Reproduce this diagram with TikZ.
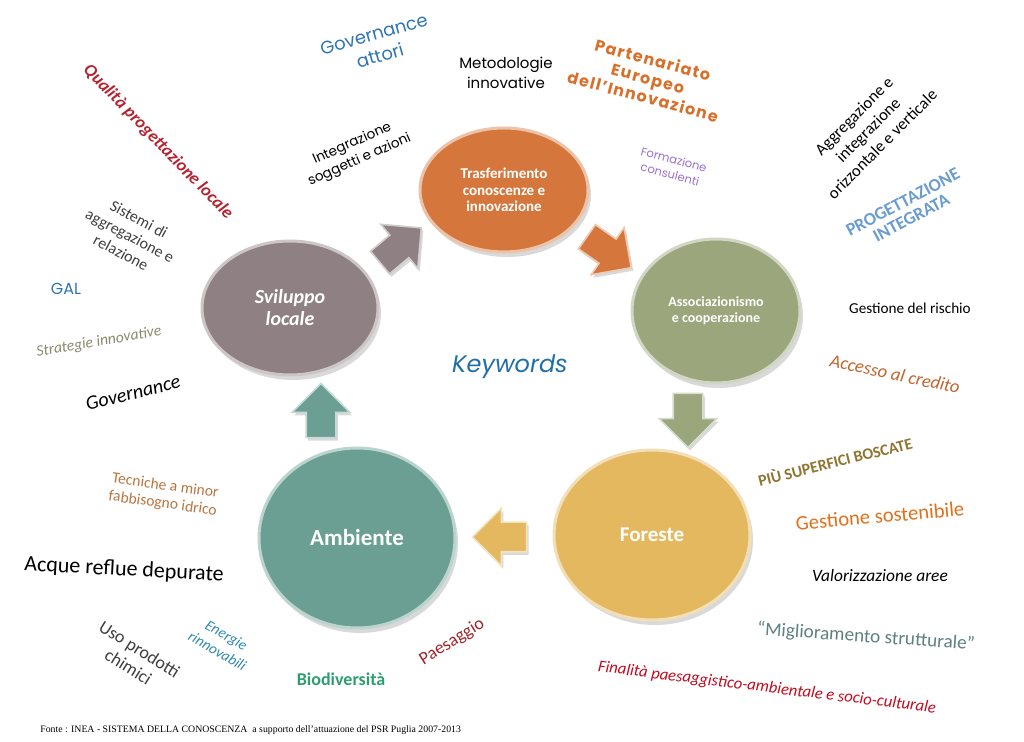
\documentclass[tikz,border=0pt]{standalone}
\usepackage{fontspec}
\setmainfont{Carlito}
\newfontfamily\gothicfont{Poppins}
\newfontfamily\notefont{Liberation Serif}
\usetikzlibrary{positioning, shapes.geometric, shapes.arrows, shadows}
\newcommand{\setsize}[2]{\fontsize{#1}{#2}\selectfont}
\definecolor{svilcol}{HTML}{8F8183}
\definecolor{trasfcol}{HTML}{D5773D}
\definecolor{assoccol}{HTML}{9CA67D}
\definecolor{forecol}{HTML}{E3B85E}
\definecolor{ambcol}{HTML}{6B9F93}
\definecolor{qualred}{HTML}{B5232F}
\definecolor{darkgray}{HTML}{3F3F3F}
\definecolor{galblue}{HTML}{2E74B5}
\definecolor{olivegray}{HTML}{8A8A6E}
\definecolor{partorange}{HTML}{D8702A}
\definecolor{formpurple}{HTML}{9A6FD0}
\definecolor{progblue}{HTML}{6A9CD0}
\definecolor{accbrown}{HTML}{C0632C}
\definecolor{boscolive}{HTML}{8F7530}
\definecolor{sostorange}{HTML}{E0711C}
\definecolor{miglteal}{HTML}{5E8080}
\definecolor{finred}{HTML}{C00A1E}
\definecolor{tecbrown}{HTML}{B8753F}
\definecolor{enblue}{HTML}{2F8AB0}
\definecolor{biogreen}{HTML}{2E9E72}
\definecolor{paesred}{HTML}{A3232B}
\definecolor{kwblue}{HTML}{1F6FA8}
\tikzset{
    theme/.style={ellipse, draw=#1!45!white, line width=1.5pt, fill=#1, inner sep=0pt,
        text=white, align=center,
        drop shadow={opacity=0.3, shadow xshift=1.5pt, shadow yshift=-2.5pt}},
    flow/.style={single arrow, fill=#1, draw=#1!40!white, line width=0.8pt,
        minimum height=27pt, single arrow head extend=7pt, inner xsep=0pt, inner ysep=7pt,
        drop shadow={opacity=0.3, shadow xshift=1pt, shadow yshift=-1.5pt}},
    kw/.style={align=center, inner sep=1pt}
}

\begin{document}
\begin{tikzpicture}[x=0.5pt, y=-0.5pt]
    \useasboundingbox (0,0) rectangle (1024,742);

    % Themes
    \node[theme=svilcol, minimum width=88pt, minimum height=67pt, font=\bfseries\itshape\setsize{10}{11}] (svil) at (290,308) {Sviluppo\\locale};
    \node[theme=trasfcol, minimum width=84pt, minimum height=62pt, font=\bfseries\setsize{7.5}{8.3}] (trasf) at (504,190) {Trasferimento\\conoscenze e\\innovazione};
    \node[theme=assoccol, minimum width=84pt, minimum height=72pt, font=\bfseries\setsize{7}{8}] (assoc) at (716,311) {Associazionismo\\e cooperazione};
    \node[theme=forecol, minimum width=98pt, minimum height=85pt, font=\bfseries\setsize{10.5}{12}] (fore) at (652,535) {Foreste};
    \node[theme=ambcol, minimum width=98pt, minimum height=90pt, font=\bfseries\setsize{11.5}{13}] (amb) at (357,538) {Ambiente};

    % Arrows between themes
    \node[flow=svilcol, rotate=40] (svil-trasf) at (395,250) {};
    \node[flow=trasfcol, rotate=-35] (trasf-assoc) at (603,248) {};
    \node[flow=assoccol, rotate=-90] (assoc-fore) at (688,413) {};
    \node[flow=forecol, rotate=180] (fore-amb) at (507,537) {};
    \node[flow=ambcol, rotate=90] (amb-svil) at (321,418) {};

    \node[kw, text=kwblue, font=\gothicfont\itshape\setsize{12}{14}] (keywords) at (510,367) {Keywords};

    % Sviluppo locale
    \node[kw, text=qualred, rotate=-46, font=\bfseries\itshape\setsize{8.8}{9}] (qualita) at (158,142) {Qualità progettazione locale};
    \node[kw, text=darkgray, rotate=-28, font=\setsize{8}{9.5}] (sistemi) at (130,236) {Sistemi di\\aggregazione e\\relazione};
    \node[kw, text=galblue, font=\gothicfont\setsize{8}{9}] (gal) at (66,289) {GAL};
    \node[kw, text=olivegray, rotate=10, font=\itshape\setsize{7.8}{8}] (strategie) at (99,342) {Strategie innovative};
    \node[kw, text=black, rotate=14, font=\itshape\setsize{10}{11}] (governance) at (133,393) {Governance};

    % Trasferimento conoscenze e innovazione
    \node[kw, text=galblue, rotate=16, font=\gothicfont\setsize{9}{11}] (govattori) at (377,45) {Governance\\attori};
    \node[kw, text=black, font=\gothicfont\setsize{7.5}{10}] (metodologie) at (506,73) {Metodologie\\innovative};
    \node[kw, text=black, rotate=24, font=\gothicfont\setsize{6.8}{9}] (integrazione) at (356,152) {Integrazione\\soggetti e azioni};
    \node[kw, text=partorange, rotate=-15, font=\gothicfont\bfseries\addfontfeatures{LetterSpace=8}\setsize{8}{9.5}] (partenariato) at (648,78) {Partenariato\\Europeo\\dell’Innovazione};
    \node[kw, text=formpurple, rotate=-15, font=\gothicfont\setsize{5.8}{7.5}] (formazione) at (672,167) {Formazione\\consulenti};

    % Associazionismo e cooperazione
    \node[kw, text=black, rotate=45, font=\setsize{8.3}{10}] (aggregazione) at (868,130) {Aggregazione e\\integrazione\\orizzontale e verticale};
    \node[kw, text=progblue, rotate=28, font=\bfseries\setsize{9}{9}] (progettazione) at (907,210) {PROGETTAZIONE\\INTEGRATA};
    \node[kw, text=black, font=\setsize{7.6}{8}] (rischio) at (910,308) {Gestione del rischio};
    \node[kw, text=accbrown, rotate=-12, font=\itshape\setsize{9.2}{9}] (credito) at (895,374) {Accesso al credito};

    % Foreste
    \node[kw, text=boscolive, rotate=14, font=\bfseries\setsize{8}{8}] (boscate) at (835,461) {PIÙ SUPERFICI BOSCATE};
    \node[kw, text=sostorange, rotate=5, font=\setsize{10.3}{10}] (sostenibile) at (880,516) {Gestione sostenibile};
    \node[kw, text=black, font=\itshape\setsize{8.7}{9}] (valorizzazione) at (880,576) {Valorizzazione aree};
    \node[kw, text=miglteal, rotate=-4, font=\setsize{9.6}{9}] (miglioramento) at (866,637) {“Miglioramento strutturale”};
    \node[kw, text=finred, rotate=-7, font=\itshape\setsize{8.3}{8}] (finalita) at (767,688) {Finalità paesaggistico-ambientale e socio-culturale};

    % Ambiente
    \node[kw, text=tecbrown, rotate=-8, font=\setsize{7.8}{9}] (tecniche) at (164,495) {Tecniche a minor\\fabbisogno idrico};
    \node[kw, text=black, rotate=-3, font=\setsize{11}{11}] (acque) at (124,570) {Acque reflue depurate};
    \node[kw, text=darkgray, rotate=-32, font=\setsize{9}{10.5}] (chimici) at (134,658) {Uso prodotti\\chimici};
    \node[kw, text=enblue, rotate=-30, font=\itshape\setsize{7.5}{9}] (energie) at (222,643) {Energie\\rinnovabili};
    \node[kw, text=biogreen, font=\bfseries\setsize{9}{9}] (biodiversita) at (341,679) {Biodiversità};
    \node[kw, text=paesred, rotate=32, font=\setsize{9}{9}] (paesaggio) at (452,642) {Paesaggio};

    % Source
    \node[kw, anchor=west, font=\notefont\setsize{4.9}{6}] (fonte) at (38,730) {Fonte : INEA - SISTEMA DELLA CONOSCENZA\ \ a supporto dell’attuazione del PSR Puglia 2007-2013};
\end{tikzpicture}
\end{document}
